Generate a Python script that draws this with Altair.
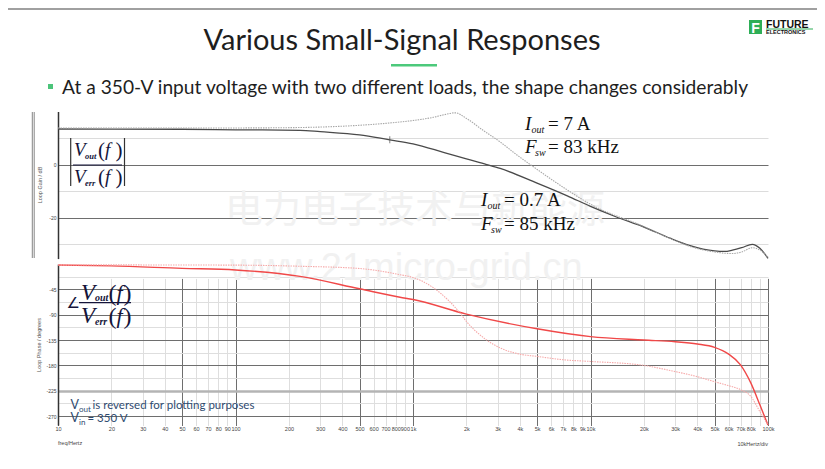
import json
import altair as alt
import pandas as pd

# ---------------- data ----------------
gain_07_freq = [10, 50, 100, 231, 300, 500, 740, 1000, 1500, 2000, 2600, 3100, 5000, 7400,
                10000, 14000, 20000, 28000, 36000, 50000, 57000, 63000, 71000, 81600, 90000, 100000]
gain_07_db = [13.4, 13.3, 13.1, 12.9, 12.4, 11.2, 9.3, 7.8, 4.5, 2.1, 0.0, -1.5, -7.0, -11.8,
              -15.8, -19.8, -23.6, -27.8, -30.5, -32.6, -32.8, -32.3, -31.4, -30.1, -31.6, -35.4]

gain_7_freq = [10, 50, 100, 200, 355, 500, 720, 1000, 1300, 1500, 1730, 2000, 2470, 3100, 3850,
               4800, 5900, 7400, 10000, 20000, 28000, 36000, 50000, 63000, 71000, 81600, 90000, 100000]
gain_7_db = [13.8, 13.8, 13.8, 13.9, 14.3, 14.8, 15.6, 16.6, 17.8, 18.8, 19.5, 17.4, 13.0, 8.5, 3.6,
             -1.0, -5.2, -9.6, -15.0, -23.4, -27.8, -30.8, -33.0, -33.6, -33.0, -31.4, -32.3, -35.0]

phase_07_freq = [10, 20, 50, 100, 231, 500, 845, 1000, 2000, 5000, 10000, 20000, 30000, 40000,
                 50000, 60000, 70000, 80000, 90000, 100000]
phase_07_deg = [-1.8, -3.4, -7.7, -10.6, -22, -44, -59, -63, -89, -115, -129, -135, -138, -142,
                -148, -160, -179, -211, -250, -286]

phase_7_freq = [10, 100, 231, 500, 845, 1000, 1300, 1600, 1840, 2000, 2500, 3100, 4000, 5000, 7000,
                10000, 20000, 30000, 40000, 50000, 60000, 70000, 80000, 90000, 100000]
phase_7_deg = [-1.5, -2, -4, -8, -19, -24, -42, -66, -87, -102, -131, -149, -160, -164, -170,
               -173, -180, -191, -200, -209, -216, -223, -235, -262, -286]

marker_freq = [740]
marker_db = [9.3]

x_tick_values = [10, 20, 30, 40, 50, 60, 70, 80, 90,
                 100, 200, 300, 400, 500, 600, 700, 800, 900,
                 1000, 2000, 3000, 4000, 5000, 6000, 7000, 8000, 9000,
                 10000, 20000, 30000, 40000, 50000, 60000, 70000, 80000, 90000, 100000]
x_major_values = [10, 50, 100, 500, 1000, 5000, 10000, 50000, 100000]
gain_tick_values = [10, 0, -10, -20, -30]
phase_tick_values = [-22.5, -45, -67.5, -90, -112.5, -135, -157.5, -180, -202.5, -225, -247.5, -270]

# ---------------- geometry ----------------
PX0, PY0 = 58, 112          # page position of the plot area
W, H = 710, 313
one = pd.DataFrame({"k": [0]})

x_scale = alt.Scale(type="log", domain=[10, 100000], nice=False)
x_axis = alt.Axis(
    values=x_tick_values,
    labelExpr="datum.value == 90000 ? '' : (datum.value >= 1000 ? (datum.value / 1000) + 'k' : '' + datum.value)",
    labelOverlap=False, labelFlush=False, labelFontSize=5.5, labelColor="#444",
    labelFont="Liberation Sans", labelPadding=1.5, ticks=False, domain=False,
    grid=True, gridWidth=1,
    gridColor={"condition": {"test": "indexof(" + json.dumps(x_major_values) + ", datum.value) >= 0",
                             "value": "#6e6e6e"}, "value": "#dedede"},
    title=None,
)
X = alt.X("freq:Q", scale=x_scale, axis=x_axis)

gain_scale = alt.Scale(domain=[-35.5, 20], range=[146.6, -0.5], nice=False, zero=False)
phase_scale = alt.Scale(domain=[-286, 0], range=[313.1, 152], nice=False, zero=False)

gain_axis = alt.Axis(
    values=gain_tick_values, orient="left",
    labelExpr="datum.value % 20 == 0 ? '' + datum.value : ''",
    labelFontSize=5, labelColor="#444", labelFont="Liberation Sans", labelPadding=2,
    ticks=False, domain=True, domainColor="#333", domainWidth=1.5,
    grid=True,
    gridColor={"condition": {"test": "datum.value % 20 == 0", "value": "#6e6e6e"}, "value": "#dcdcdc"},
    title=None,
)
phase_axis = alt.Axis(
    values=phase_tick_values, orient="left",
    labelExpr="datum.value % 45 == 0 ? '' + datum.value : ''",
    labelFontSize=5, labelColor="#444", labelFont="Liberation Sans", labelPadding=2,
    ticks=False, domain=True, domainColor="#333", domainWidth=1.5,
    grid=True,
    gridColor={"condition": [{"test": "datum.value == -225", "value": "#b4b4b4"},
                             {"test": "datum.value % 45 == 0", "value": "#6e6e6e"}],
               "value": "#dedede"},
    gridWidth={"condition": {"test": "datum.value == -225", "value": 2.6}, "value": 1},
    title=None,
)


def line(freqs, vals, scale, axis, color, width, dash=None, opacity=1):
    df = pd.DataFrame({"freq": freqs, "v": vals})
    kw = dict(color=color, strokeWidth=width, interpolate="monotone", opacity=opacity)
    if dash:
        kw["strokeDash"] = dash
    return alt.Chart(df).mark_line(**kw).encode(
        x=X, y=alt.Y("v:Q", scale=scale, axis=axis))


def txt(text, px, py, size, font="Lato", color="#222", align="left", baseline="alphabetic",
        style="normal", weight="normal", angle=0):
    return alt.Chart(one).mark_text(
        text=text, font=font, fontSize=size, color=color, align=align, baseline=baseline,
        fontStyle=style, fontWeight=weight, angle=angle,
    ).encode(x=alt.value(px - PX0), y=alt.value(py - PY0))


def rule(x1, x2, y1, y2, color, width):
    return alt.Chart(one).mark_rule(color=color, strokeWidth=width).encode(
        x=alt.value(x1 - PX0), x2=alt.value(x2 - PX0),
        y=alt.value(y1 - PY0), y2=alt.value(y2 - PY0))


def box(x1, x2, y1, y2, color):
    return alt.Chart(one).mark_rect(color=color).encode(
        x=alt.value(x1 - PX0), x2=alt.value(x2 - PX0),
        y=alt.value(y1 - PY0), y2=alt.value(y2 - PY0))


SERIF = "Liberation Serif"
INK = "#14143a"
layers = []

# watermark
layers.append(txt("电力电子技术与新能源", 225, 211, 38, font="Noto Sans CJK SC", color="#f1f1f1",
                  baseline="middle"))
layers.append(txt("www.21micro-grid.cn", 230, 280, 38, font="Liberation Sans", color="#f1f1f1"))

# curves
layers.append(line(gain_07_freq, gain_07_db, gain_scale, gain_axis, "#4a4a4a", 1.3))
layers.append(line(gain_7_freq, gain_7_db, gain_scale, None, "#a8a8a8", 1.1, dash=[1.5, 1]))
layers.append(alt.Chart(pd.DataFrame({"freq": marker_freq, "v": marker_db}))
              .mark_tick(orient="vertical", size=7, thickness=1, color="#4a4a4a")
              .encode(x=X, y=alt.Y("v:Q", scale=gain_scale, axis=None)))
layers.append(line(phase_07_freq, phase_07_deg, phase_scale, phase_axis, "#f04848", 1.4))
layers.append(line(phase_7_freq, phase_7_deg, phase_scale, None, "#f6aaaa", 1.1, dash=[1.5, 1]))

# left double rule of the gain plot
layers.append(rule(32.3, 32.3, 112, 258, "#666", 0.8))
layers.append(rule(34.2, 34.2, 112, 258, "#666", 0.8))

# axis titles / extra labels
layers.append(txt("Loop Gain / dB", 40, 185, 5.5, font="Liberation Sans", color="#555",
                  align="center", baseline="middle", angle=270))
layers.append(txt("Loop Phase / degrees", 38.5, 345, 5.5, font="Liberation Sans", color="#555",
                  align="center", baseline="middle", angle=270))
layers.append(txt("freq/Hertz", 58, 445, 5.5, font="Liberation Sans", color="#444"))
layers.append(txt("10kHertz/div", 768, 446, 5.5, font="Liberation Sans", color="#444", align="right"))

# |Vout(f)/Verr(f)|
layers += [
    txt("V", 74, 155.5, 19, font=SERIF, color=INK, style="italic"),
    txt("out", 85, 159, 8.5, font=SERIF, color=INK, style="italic", weight="bold"),
    txt("(", 98, 157, 21, font=SERIF, color=INK),
    txt("f", 105, 156, 19, font=SERIF, color=INK, style="italic"),
    txt(")", 115.5, 157, 21, font=SERIF, color=INK),
    rule(73, 122, 165, 165, INK, 1.2),
    txt("V", 74, 182.5, 19, font=SERIF, color=INK, style="italic"),
    txt("err", 85, 185.5, 8.5, font=SERIF, color=INK, style="italic", weight="bold"),
    txt("(", 98, 184, 21, font=SERIF, color=INK),
    txt("f", 105, 183, 19, font=SERIF, color=INK, style="italic"),
    txt(")", 115.5, 184, 21, font=SERIF, color=INK),
    rule(70.7, 70.7, 138, 186, "#333", 1.2),
    rule(124.5, 124.5, 138, 186, "#333", 1.2),
]

# angle Vout(f)/Verr(f)
layers += [
    txt("∠", 66.5, 308, 15, font="DejaVu Sans", color=INK),
    txt("V", 81, 300, 23, font=SERIF, color=INK, style="italic"),
    txt("out", 95, 301, 10, font=SERIF, color=INK, style="italic", weight="bold"),
    txt("(", 108.5, 301, 24, font=SERIF, color=INK),
    txt("f", 116.5, 300, 22, font=SERIF, color=INK, style="italic"),
    txt(")", 123.5, 301, 24, font=SERIF, color=INK),
    rule(79, 131, 302.7, 302.7, INK, 1.2),
    txt("V", 81, 323, 23, font=SERIF, color=INK, style="italic"),
    txt("err", 95, 325, 10, font=SERIF, color=INK, style="italic", weight="bold"),
    txt("(", 108.5, 324, 24, font=SERIF, color=INK),
    txt("f", 116.5, 323, 22, font=SERIF, color=INK, style="italic"),
    txt(")", 123.5, 324, 24, font=SERIF, color=INK),
]


# load annotations
def load_note(x, y1, y2, iout, fsw):
    xeq = x + 23
    return [
        txt("I", x, y1, 19, font=SERIF, color="#111", style="italic"),
        txt("out", x + 6.5, y1 + 3, 10, font=SERIF, color="#111", style="italic"),
        txt("= " + iout, xeq, y1, 19, font=SERIF, color="#111"),
        txt("F", x, y2, 19, font=SERIF, color="#111", style="italic"),
        txt("sw", x + 10, y2 + 3, 10, font=SERIF, color="#111", style="italic"),
        txt("= " + fsw, xeq, y2, 19, font=SERIF, color="#111"),
    ]


layers += load_note(525, 129.5, 152.5, "7 A", "83 kHz")
layers += load_note(481, 206, 230, "0.7 A", "85 kHz")

# notes bottom left
NOTE = "#2f4b70"
layers += [
    txt("V", 70.5, 409, 12.5, color=NOTE),
    txt("out", 79, 412, 8, color=NOTE),
    txt("is reversed for plotting purposes", 92.5, 409, 11.5, color=NOTE),
    txt("V", 70.5, 422, 12.5, color=NOTE),
    txt("in", 79, 425, 8, color=NOTE),
    txt("= 350 V", 87.5, 422, 11.5, color=NOTE),
]

# slide header
layers += [
    rule(8, 817, 9, 9, "#808080", 1.5),
    txt("Various Small-Signal Responses", 402, 50, 29, color="#1e1e1e", align="center"),
    rule(391, 437, 65.3, 65.3, "#4cc97b", 2.5),
    box(48, 53, 84, 89, "#4cc47a"),
    txt("At a 350-V input voltage with two different loads, the shape changes considerably",
        62, 94, 19.2, color="#1e1e1e"),
    box(749, 762, 20, 34, "#2eae57"),
    txt("F", 755.5, 32.5, 14, font="Liberation Sans", color="white", weight="bold", align="center"),
    txt("FUTURE", 766, 27.5, 10.5, font="Liberation Sans", color="#111", weight="bold"),
    rule(766, 813, 29, 29, "#2eae57", 1.2),
    txt("ELECTRONICS", 766, 34.3, 5.5, font="Liberation Sans", color="#111", weight="bold"),
]

chart = alt.layer(*layers).resolve_scale(y="independent").resolve_axis(y="independent").properties(
    width=W, height=H,
    autosize=alt.AutoSizeParams(type="none"),
    padding={"left": PX0 - 8, "top": PY0 - 8, "right": 809 - (PX0 - 8) - W, "bottom": 453 - (PY0 - 8) - H},
    background="white",
).configure_view(stroke=None)

chart.save("out.html", embed_options={"renderer": "svg", "actions": False})
